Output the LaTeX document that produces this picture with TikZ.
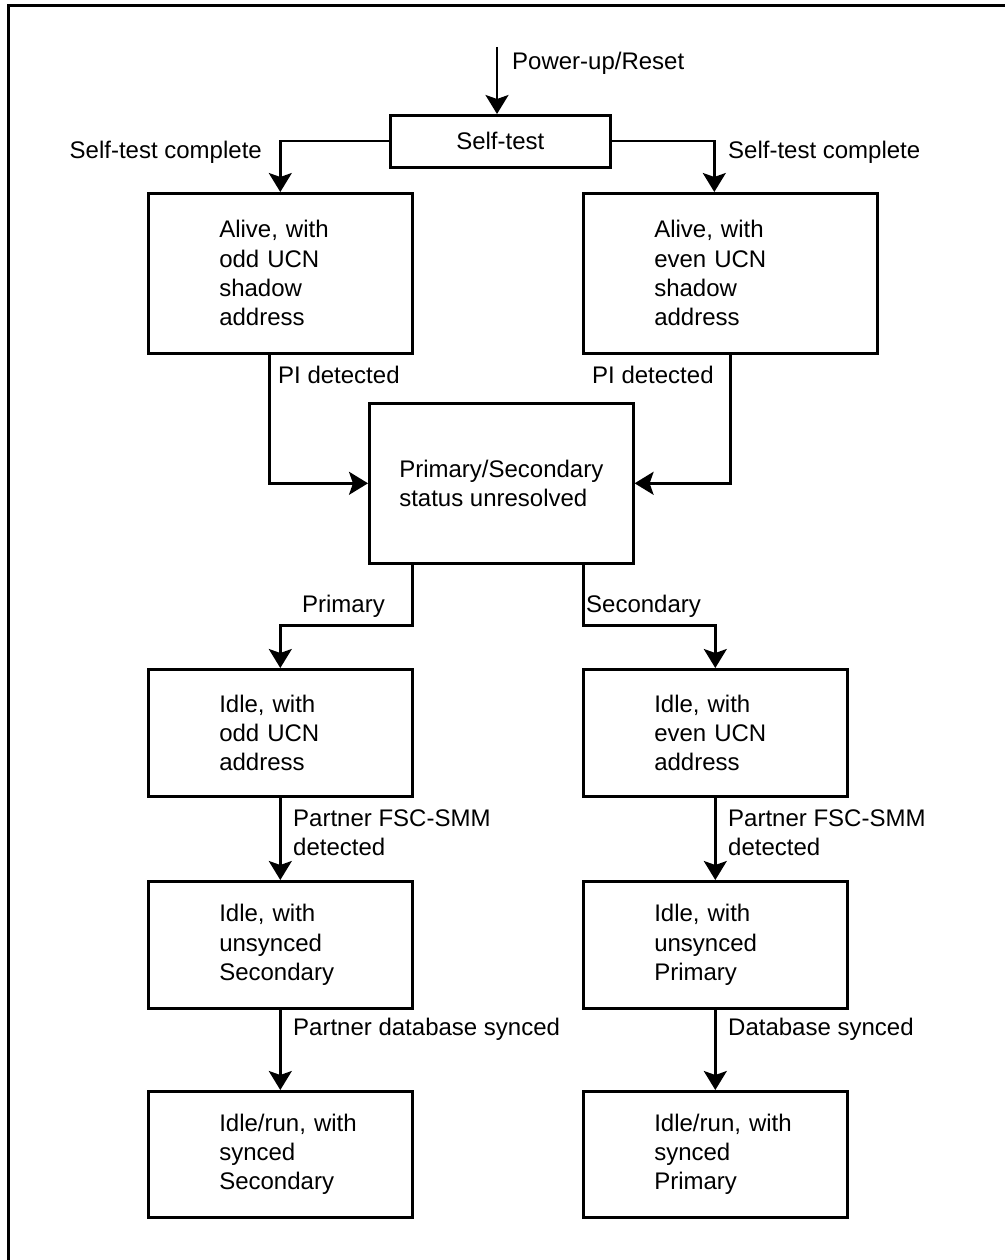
\documentclass[tikz,border=0pt]{standalone}
\usepackage{fontspec}
\setmainfont{Liberation Sans}
\usetikzlibrary{arrows.meta}
\begin{document}
\begin{tikzpicture}[x=1pt,y=-1pt,
  every node/.style={font=\fontsize{24}{29.3}\selectfont},
  box/.style={draw,line width=2.6pt,anchor=north west,inner ysep=0pt},
  colbox/.style 2 args={box,minimum width=#1,minimum height=#2,
    text width=#1-142,inner xsep=71pt,align=left,
    execute at begin node={\hfuzz=100pt}},
  ctrbox/.style 2 args={box,minimum width=#1,minimum height=#2,
    inner xsep=0pt,align=left},
  lbl/.style={inner sep=0pt},
  flow/.style={line width=2.4pt,-{Stealth[length=19pt,width=23pt,inset=4pt]}},
  frame/.style={line width=3pt}
]
\useasboundingbox (0,0) rectangle (1004,1260);
\draw[frame] (8.5,1270) -- (8.5,5.5) -- (1014,5.5);

% states
\node[ctrbox={220}{52}] (st) at (389,114) {Self-test};
\node[colbox={264}{160}] (al) at (147,192) {Alive, with\\odd UCN\\shadow\\address};
\node[colbox={294}{160}] (ar) at (582,192) {Alive, with\\even UCN\\shadow\\address};
\node[ctrbox={264}{160}] (ps) at (368,402) {Primary/Secondary\\status unresolved};
\node[colbox={264}{127}] (io) at (147,668) {Idle, with\\odd UCN\\address};
\node[colbox={264}{127}] (ie) at (582,668) {Idle, with\\even UCN\\address};
\node[colbox={264}{127}] (us) at (147,880) {Idle, with\\unsynced\\Secondary};
\node[colbox={264}{127}] (up) at (582,880) {Idle, with\\unsynced\\Primary};
\node[colbox={264}{126}] (rs) at (147,1090) {Idle/run,~with\\synced\\Secondary};
\node[colbox={264}{126}] (rp) at (582,1090) {Idle/run,~with\\synced\\Primary};

% transitions
\coordinate (pu) at (497,47);
\draw[flow] (pu) -- (pu |- st.north);
\draw[flow] (st.west) -| (al.north);
\draw[flow] (st.east) -| ([xshift=-16pt]ar.north);
\draw[flow] ([xshift=-11pt]al.south) |- (ps.west);
\draw[flow] (ar.south) |- (ps.east);
\draw[flow] ([xshift=-89pt]ps.south) -- ++(0,61) -| (io.north);
\draw[flow] ([xshift=82pt]ps.south) -- ++(0,61) -| (ie.north);
\draw[flow] (io.south) -- (us.north);
\draw[flow] (ie.south) -- (up.north);
\draw[flow] (us.south) -- (rs.north);
\draw[flow] (up.south) -- (rp.north);

% transition labels
\node[lbl,anchor=base west] (lpu) at (512,70) {Power-up/Reset};
\node[lbl,anchor=base east] (lstl) at (262,159) {Self-test complete};
\node[lbl,anchor=base west] (lstr) at (728,159) {Self-test complete};
\node[lbl,anchor=base west] (lpil) at (278,383) {PI detected};
\node[lbl,anchor=base west] (lpir) at (592,383) {PI detected};
\node[lbl,anchor=base east] (lpri) at (385,612) {Primary};
\node[lbl,anchor=base west] (lsec) at (586,612) {Secondary};
\node[lbl,anchor=north west,align=left] (lpfl) at (293,809.5) {Partner FSC-SMM\\detected};
\node[lbl,anchor=north west,align=left] (lpfr) at (728,809.5) {Partner FSC-SMM\\detected};
\node[lbl,anchor=base west] (ldbl) at (293,1035) {Partner database synced};
\node[lbl,anchor=base west] (ldbr) at (728,1035) {Database synced};
\end{tikzpicture}
\end{document}
